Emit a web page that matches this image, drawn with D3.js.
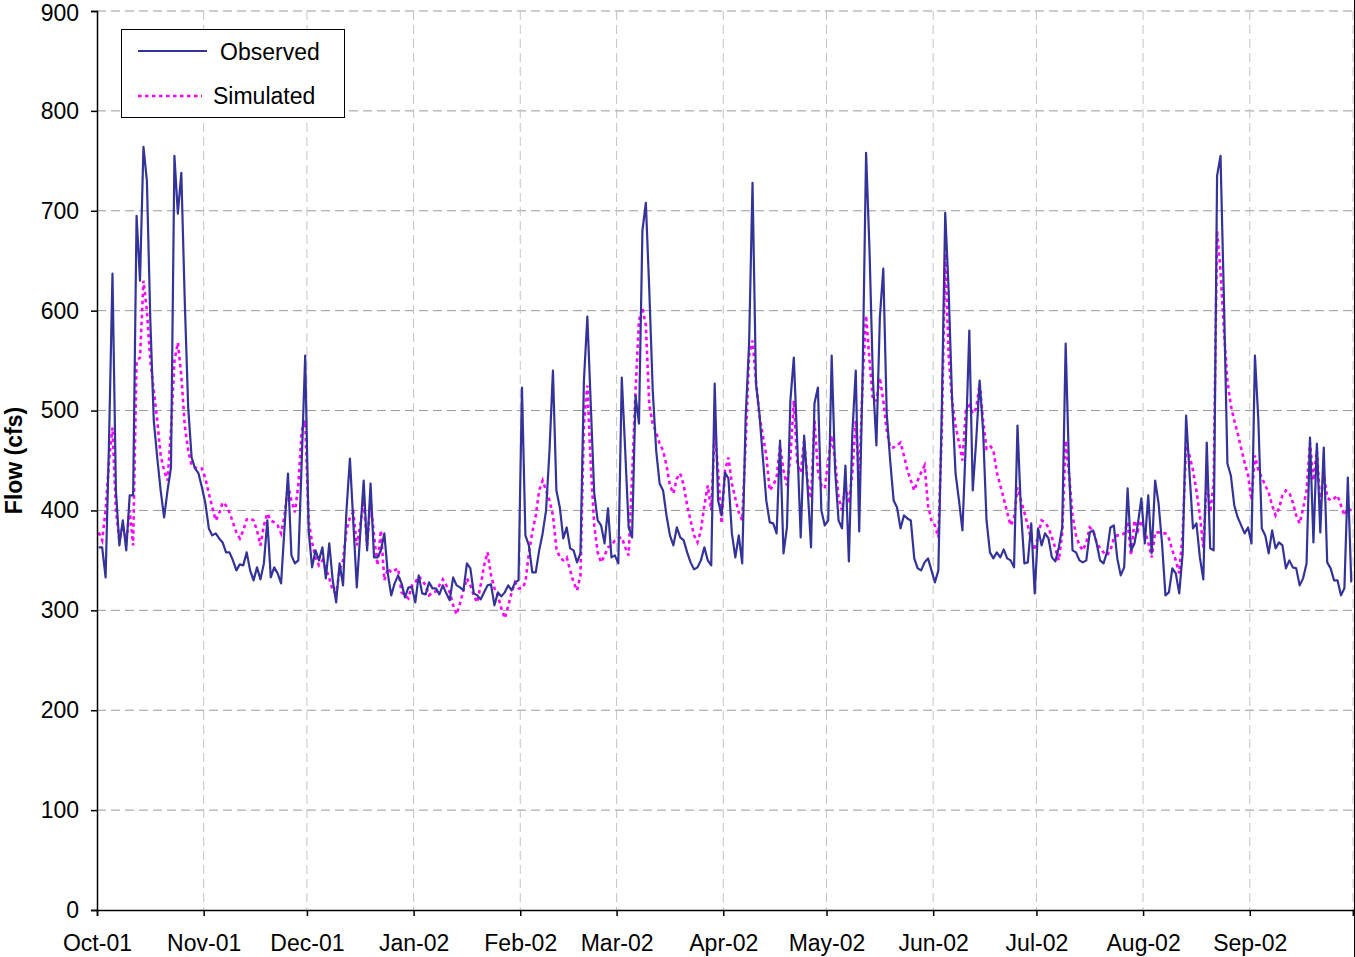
<!DOCTYPE html>
<html>
<head>
<meta charset="utf-8">
<script src="https://cdn.jsdelivr.net/npm/d3@7"></script>
<style>
  html, body { margin: 0; padding: 0; background: #fff; }
  svg { display: block; }
  text { font-family: Arial, "Liberation Sans", sans-serif; }
</style>
</head>
<body>
<svg id="chart" width="1355" height="957"></svg>
<script>
// ---- Data (daily flow, cfs) ----
const monthLabels = ["Oct-01","Nov-01","Dec-01","Jan-02","Feb-02","Mar-02","Apr-02","May-02","Jun-02","Jul-02","Aug-02","Sep-02"];
const yTicks = [0,100,200,300,400,500,600,700,800,900];

const obsOct = [363,363,333,470,637,420,365,390,360,415,415,695,630,764,730,590,490,453,420,393,420,443,755,697,738,610,503,453,442,437,423];
const obsNov = [407,382,375,377,372,368,358,358,350,340,346,345,358,340,330,343,331,347,390,333,343,337,327,383,437,355,347,350,450,555];
const obsDec = [380,343,360,350,363,332,367,330,308,347,325,400,452,387,323,377,430,360,427,353,353,360,377,337,315,327,335,327,313,323,323];
const obsJan = [308,335,317,316,328,322,322,316,325,317,310,333,325,323,320,347,342,317,315,311,318,325,326,305,318,314,318,325,320,328,330];
const obsFeb = [523,375,365,338,338,360,377,400,460,540,420,403,372,383,362,360,348,357,530,594,505,417,390,385,367,402,353,355];
const obsMar = [347,533,460,383,373,515,487,680,708,620,520,460,427,420,395,375,365,383,373,370,358,348,341,343,350,363,350,345,527,410,395];
const obsApr = [438,432,377,353,375,347,493,567,728,527,497,453,410,388,387,377,470,357,383,510,553,467,373,475,423,363,507,523,400,385];
const obsMay = [390,555,440,390,382,445,349,477,540,379,537,758,660,530,465,593,642,497,450,410,403,382,395,392,390,352,342,340,348,352,340];
const obsJun = [328,340,500,698,620,510,437,410,380,470,580,420,470,530,480,390,358,352,358,353,361,352,350,343,485,400,347,348,387,317];
const obsJul = [382,365,377,372,353,349,363,383,567,440,360,358,350,348,350,378,380,367,350,347,358,383,385,352,335,343,422,360,367,387,412];
const obsAug = [367,415,357,430,407,367,315,318,342,337,317,357,495,437,382,387,353,331,468,362,360,735,755,610,447,435,405,393,385,377,383];
const obsSep = [367,555,490,382,375,357,380,362,368,365,342,350,343,342,325,332,347,473,368,467,378,463,348,342,330,330,315,322,433,328];

const simOct = [378,370,400,450,483,400,370,385,370,400,365,550,553,630,600,550,520,490,455,440,430,480,550,568,535,485,460,445,443,442,442];
const simNov = [432,417,403,390,397,408,405,398,388,378,372,380,391,392,390,380,365,385,397,390,388,385,377,395,425,410,398,425,480,490];
const simDec = [390,368,353,345,350,342,332,320,317,340,350,380,393,398,365,385,410,365,410,375,345,380,330,342,338,340,342,318,315,312,325];
const simJan = [328,334,330,325,315,318,319,325,331,325,318,305,296,307,320,332,325,315,308,325,345,358,335,322,315,302,292,304,318,328,322];
const simFeb = [322,328,357,378,395,420,430,420,410,395,362,353,350,353,340,328,320,335,487,525,445,385,358,348,355,363,365,370];
const simMar = [372,373,363,355,435,520,590,603,585,505,487,478,467,460,445,425,417,432,437,425,405,390,375,368,380,405,425,400,480,440,387];
const simApr = [440,453,427,412,398,390,467,555,570,530,495,475,455,420,425,433,465,440,425,453,510,447,438,470,428,412,490,440,425,422];
const simMay = [450,475,450,413,400,425,407,437,490,430,530,595,550,510,510,533,510,480,463,463,465,468,455,440,430,420,430,438,445,405,390];
const simJun = [385,373,480,657,555,510,485,468,450,500,505,497,502,527,490,462,465,460,438,425,412,398,385,392,423,410,398,385,370,360];
const simJul = [375,390,388,383,373,362,350,377,470,435,395,375,365,360,368,383,380,368,362,358,355,360,372,375,375,377,388,355,390,380,390];
const simAug = [380,368,353,378,378,377,377,372,360,350,337,377,465,455,440,420,395,363,430,398,427,680,640,580,530,505,490,477,462,448,435];
const simSep = [410,455,440,433,425,418,405,395,402,415,420,418,408,395,387,402,420,468,430,460,405,437,413,410,412,415,405,395,402,400];

const observed = [].concat(obsOct,obsNov,obsDec,obsJan,obsFeb,obsMar,obsApr,obsMay,obsJun,obsJul,obsAug,obsSep);
const simulated = [].concat(simOct,simNov,simDec,simJan,simFeb,simMar,simApr,simMay,simJun,simJul,simAug,simSep);
const monthLens = [obsOct,obsNov,obsDec,obsJan,obsFeb,obsMar,obsApr,obsMay,obsJun,obsJul,obsAug,obsSep].map(a => a.length);

// month boundary indices
const monthStarts = [0];
monthLens.forEach(l => monthStarts.push(monthStarts[monthStarts.length-1] + l));
const nDays = observed.length;

// ---- Layout ----
const svg = d3.select("#chart");
const L = 97, R = 1353, T = 11, B = 910;
const x = d3.scaleLinear().domain([0, nDays]).range([L, R]);
const y = d3.scaleLinear().domain([0, 900]).range([B, T]);
const FS = 23;

// horizontal gridlines
svg.append("g").selectAll("line").data(yTicks.filter(d => d > 0)).join("line")
  .attr("x1", L).attr("x2", R)
  .attr("y1", d => y(d)).attr("y2", d => y(d))
  .attr("stroke", "#9a9a9a").attr("stroke-width", 1)
  .attr("stroke-dasharray", "9,5");

// vertical gridlines at month starts
svg.append("g").selectAll("line").data(monthStarts.slice(1)).join("line")
  .attr("x1", d => x(d)).attr("x2", d => x(d))
  .attr("y1", T).attr("y2", B)
  .attr("stroke", "#c4c4c4").attr("stroke-width", 1)
  .attr("stroke-dasharray", "9,5");

// right edge line
svg.append("line").attr("x1", 1354.5).attr("x2", 1354.5).attr("y1", 0).attr("y2", 957)
  .attr("stroke", "#000").attr("stroke-width", 1);

// simulated line (dotted magenta)
const line = d3.line().x((d, i) => x(i + 0.5)).y(d => y(d));
svg.append("path").datum(simulated)
  .attr("d", line).attr("fill", "none")
  .attr("stroke", "#ff00ff").attr("stroke-width", 2.6)
  .attr("stroke-dasharray", "3.5,3.5");

// observed line
svg.append("path").datum(observed)
  .attr("d", line).attr("fill", "none")
  .attr("stroke", "#333399").attr("stroke-width", 2.2)
  .attr("stroke-linejoin", "round");

// Y axis
const yAxis = d3.axisLeft(y).tickValues(yTicks).tickSize(6).tickPadding(12).tickFormat(d3.format("d"));
const gy = svg.append("g").attr("transform", `translate(${L},0)`).call(yAxis);
gy.select(".domain").attr("stroke", "#000").attr("stroke-width", 1.5);
gy.selectAll(".tick line").attr("stroke", "#000").attr("stroke-width", 1.5);
gy.selectAll(".tick text").attr("font-size", FS).attr("fill", "#000")
  .attr("font-family", "Arial, 'Liberation Sans', sans-serif");
// keep the top label inside the picture
gy.selectAll(".tick text").filter(d => d === 900).attr("dy", "0.42em");

// X axis
const xAxis = d3.axisBottom(x).tickValues(monthStarts).tickSize(6).tickPadding(19)
  .tickFormat((d, i) => monthLabels[i] || "");
const gx = svg.append("g").attr("transform", `translate(0,${B})`).call(xAxis);
gx.select(".domain").attr("stroke", "#000").attr("stroke-width", 1.5);
gx.selectAll(".tick line").attr("stroke", "#000").attr("stroke-width", 1.5);
gx.selectAll(".tick text").attr("font-size", FS).attr("fill", "#000")
  .attr("font-family", "Arial, 'Liberation Sans', sans-serif");

// Y axis title
svg.append("text")
  .attr("transform", `translate(22,${(T + B) / 2}) rotate(-90)`)
  .attr("text-anchor", "middle")
  .attr("font-size", FS).attr("font-weight", "bold")
  .text("Flow (cfs)");

// Legend
const lg = svg.append("g");
lg.append("rect").attr("x", 121.5).attr("y", 29.5).attr("width", 223).attr("height", 88)
  .attr("fill", "#fff").attr("stroke", "#000").attr("stroke-width", 1);
lg.append("line").attr("x1", 138).attr("x2", 207).attr("y1", 51).attr("y2", 51)
  .attr("stroke", "#333399").attr("stroke-width", 2.2);
lg.append("text").attr("x", 220).attr("y", 52).attr("dy", "0.35em")
  .attr("font-size", FS).text("Observed");
lg.append("line").attr("x1", 138).attr("x2", 202).attr("y1", 96).attr("y2", 96)
  .attr("stroke", "#ff00ff").attr("stroke-width", 2.6).attr("stroke-dasharray", "3.5,3.5");
lg.append("text").attr("x", 213).attr("y", 96).attr("dy", "0.35em")
  .attr("font-size", FS).text("Simulated");
</script>
</body>
</html>
